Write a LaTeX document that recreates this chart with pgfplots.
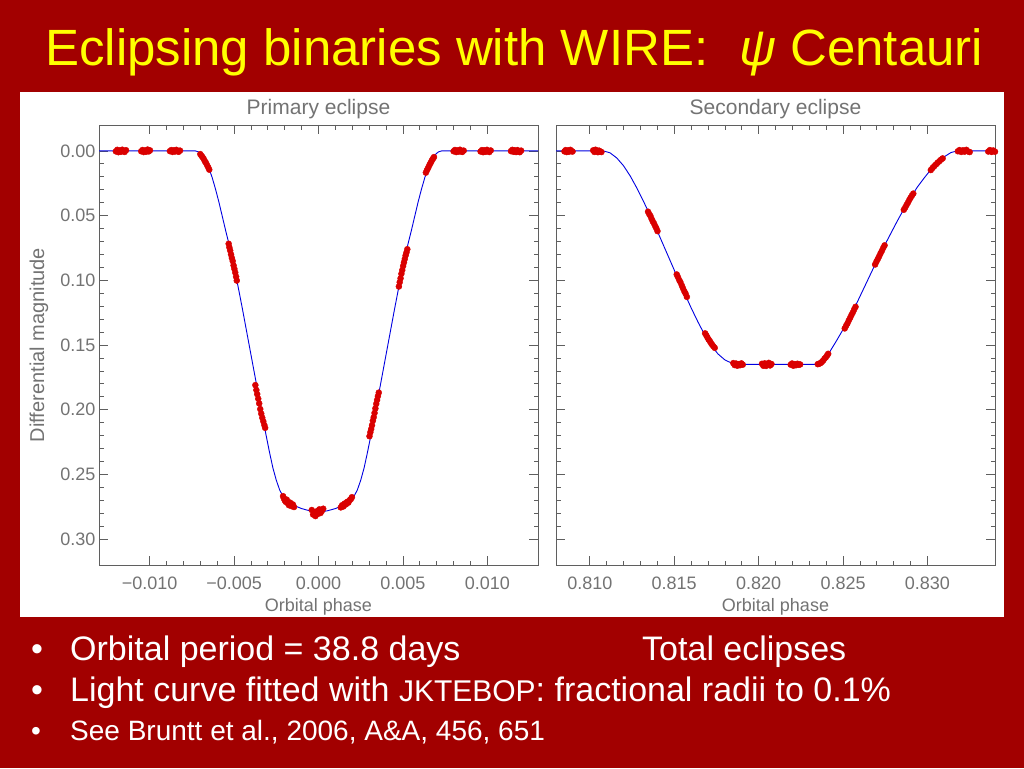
\documentclass[border=0pt]{standalone}
\usepackage{pgfplots}
\pgfplotsset{compat=1.18}
\usepackage{fontspec}
\setmainfont{Liberation Sans}

\definecolor{slidered}{RGB}{162,0,0}
\definecolor{titleyellow}{RGB}{255,255,0}
\definecolor{axgray}{RGB}{95,95,95}
\definecolor{lblgray}{RGB}{115,115,115}
\definecolor{datared}{RGB}{218,0,0}
\definecolor{fitblue}{RGB}{0,0,225}

\begin{document}
\begin{tikzpicture}[x=1pt,y=1pt]

  %% slide background and white panel
  \fill[slidered] (0,0) rectangle (1024,768);
  \fill[white] (20,151) rectangle (1004,676);

  %% common look of both panels (IDL style)
  \pgfplotsset{
    ecl/.style={
      scale only axis, width=439pt, height=440pt,
      anchor=south west,
      ymin=-0.02, ymax=0.32, y dir=reverse,
      scaled x ticks=false, scaled y ticks=false,
      axis line style={draw=axgray, line width=0.7pt},
      every tick/.style={draw=axgray, line width=0.7pt},
      major tick length=9pt, minor tick length=4.5pt,
      minor x tick num=4, minor y tick num=4,
      ytick={0,0.05,0.10,0.15,0.20,0.25,0.30},
      tick label style={font=\fontsize{18}{18}\selectfont, text=lblgray},
      xticklabel style={yshift=-8pt},
      title style={at={(axis description cs:0.5,1)}, anchor=base, yshift=4pt,
        font=\fontsize{21}{21}\selectfont, text=lblgray},
      xlabel style={at={(axis description cs:0.5,0)}, anchor=base, yshift=-46pt,
        font=\fontsize{18}{18}\selectfont, text=lblgray},
      ylabel style={at={(axis description cs:-0.137,0.5)}, anchor=center,
        font=\fontsize{20}{20}\selectfont, text=lblgray},
      xlabel={Orbital phase},
    },
    fit/.style={fitblue, line width=0.9pt, no markers},
    obs/.style={only marks, mark=*, mark size=3pt, datared,
      mark options={draw=datared, fill=datared}},
  }

  %% ---------------- primary eclipse ----------------
  \begin{axis}[ecl, at={(99pt,203pt)},
    xmin=-0.013, xmax=0.013,
    xtick={-0.010,-0.005,0,0.005,0.010},
    xticklabels={−0.010,−0.005,0.000,0.005,0.010},
    yticklabels={0.00,0.05,0.10,0.15,0.20,0.25,0.30},
    title={Primary eclipse},
    ylabel={Differential magnitude}]

    \addplot[fit] table {
      x y
      -0.0130 0
      -0.0073 0
      -0.0071 0.0008
      -0.0069 0.0030
      -0.0067 0.0072
      -0.0065 0.0130
      -0.0063 0.0205
      -0.0061 0.0295
      -0.0059 0.0395
      -0.0057 0.0505
      -0.0055 0.0615
      -0.0053 0.0720
      -0.0051 0.0835
      -0.0049 0.0960
      -0.0047 0.1090
      -0.0045 0.1225
      -0.0043 0.1365
      -0.0041 0.1505
      -0.0039 0.1645
      -0.0037 0.1785
      -0.0035 0.1925
      -0.0033 0.2065
      -0.0031 0.2200
      -0.0029 0.2330
      -0.0027 0.2450
      -0.0025 0.2545
      -0.0023 0.2620
      -0.0021 0.2670
      -0.0019 0.2700
      -0.0016 0.2727
      -0.0013 0.2748
      -0.0010 0.2764
      -0.0005 0.2782
       0.0000 0.2790
       0.0005 0.2782
       0.0010 0.2764
       0.0013 0.2748
       0.0016 0.2727
       0.0019 0.2700
       0.0021 0.2670
       0.0023 0.2620
       0.0025 0.2545
       0.0027 0.2450
       0.0029 0.2330
       0.0031 0.2200
       0.0033 0.2065
       0.0035 0.1925
       0.0037 0.1785
       0.0039 0.1645
       0.0041 0.1505
       0.0043 0.1365
       0.0045 0.1225
       0.0047 0.1090
       0.0049 0.0960
       0.0051 0.0835
       0.0053 0.0720
       0.0055 0.0615
       0.0057 0.0505
       0.0059 0.0395
       0.0061 0.0295
       0.0063 0.0205
       0.0065 0.0130
       0.0067 0.0072
       0.0069 0.0030
       0.0071 0.0008
       0.0073 0
       0.0130 0
    };

    \addplot[obs] table {
      x y
      -0.01200 0.0004
      -0.01192 -0.0008
      -0.01185 0.0010
      -0.01178 -0.0003
      -0.01170 0.0007
      -0.01162 -0.0009
      -0.01155 0.0002
      -0.01148 0.0008
      -0.01140 -0.0005
      -0.01050 0.0003
      -0.01042 -0.0007
      -0.01035 0.0009
      -0.01028 -0.0002
      -0.01020 0.0006
      -0.01012 -0.0010
      -0.01005 0.0004
      -0.00998 -0.0004
      -0.00880 0.0002
      -0.00872 -0.0006
      -0.00865 0.0008
      -0.00858 -0.0004
      -0.00850 0.0005
      -0.00842 -0.0008
      -0.00835 0.0003
      -0.00828 0.0007
      -0.00820 -0.0002
      -0.00700 0.0025
      -0.00693 0.0038
      -0.00687 0.0048
      -0.00680 0.0062
      -0.00673 0.0080
      -0.00667 0.0092
      -0.00660 0.0110
      -0.00653 0.0128
      -0.00647 0.0145
      -0.00532 0.0718
      -0.00528 0.0745
      -0.00523 0.0770
      -0.00518 0.0800
      -0.00513 0.0828
      -0.00508 0.0852
      -0.00503 0.0885
      -0.00498 0.0912
      -0.00493 0.0940
      -0.00488 0.0972
      -0.00484 0.1002
      -0.00374 0.1810
      -0.00368 0.1848
      -0.00363 0.1880
      -0.00357 0.1915
      -0.00351 0.1952
      -0.00345 0.1995
      -0.00339 0.2030
      -0.00333 0.2062
      -0.00327 0.2090
      -0.00321 0.2118
      -0.00316 0.2140
      -0.00210 0.2668
      -0.00205 0.2685
      -0.00200 0.2700
      -0.00194 0.2712
      -0.00188 0.2695
      -0.00182 0.2722
      -0.00175 0.2738
      -0.00168 0.2718
      -0.00160 0.2745
      -0.00152 0.2732
      -0.00145 0.2752
      -0.00040 0.2775
      -0.00032 0.2810
      -0.00025 0.2792
      -0.00018 0.2822
      -0.00010 0.2785
      -0.00003 0.2805
       0.00005 0.2770
       0.00012 0.2798
       0.00020 0.2782
       0.00028 0.2765
       0.00132 0.2755
       0.00140 0.2738
       0.00147 0.2748
       0.00155 0.2725
       0.00162 0.2732
       0.00170 0.2712
       0.00177 0.2718
       0.00185 0.2698
       0.00192 0.2690
       0.00198 0.2676
       0.00302 0.2205
       0.00307 0.2175
       0.00312 0.2150
       0.00317 0.2120
       0.00322 0.2085
       0.00327 0.2058
       0.00332 0.2025
       0.00337 0.1990
       0.00342 0.1955
       0.00347 0.1925
       0.00352 0.1895
       0.00357 0.1868
       0.00476 0.1048
       0.00481 0.1015
       0.00486 0.0985
       0.00491 0.0950
       0.00496 0.0922
       0.00501 0.0890
       0.00506 0.0862
       0.00511 0.0835
       0.00516 0.0808
       0.00521 0.0785
       0.00526 0.0760
       0.00636 0.0168
       0.00642 0.0150
       0.00648 0.0135
       0.00654 0.0118
       0.00660 0.0102
       0.00666 0.0088
       0.00672 0.0072
       0.00678 0.0060
       0.00684 0.0048
       0.00800 0.0003
       0.00808 -0.0007
       0.00815 0.0009
       0.00822 -0.0003
       0.00830 0.0006
       0.00838 -0.0009
       0.00845 0.0004
       0.00852 0.0008
       0.00860 -0.0002
       0.00960 0.0005
       0.00968 -0.0006
       0.00975 0.0010
       0.00982 -0.0004
       0.00990 0.0007
       0.00998 -0.0008
       0.01005 0.0003
       0.01012 0.0009
       0.01020 -0.0003
       0.01140 0.0002
       0.01148 -0.0008
       0.01155 0.0007
       0.01162 -0.0004
       0.01170 0.0009
       0.01178 -0.0006
       0.01185 0.0004
       0.01192 0.0010
       0.01200 -0.0002
    };
  \end{axis}

  %% ---------------- secondary eclipse ----------------
  \begin{axis}[ecl, at={(556pt,203pt)},
    xmin=0.808, xmax=0.834,
    xtick={0.810,0.815,0.820,0.825,0.830},
    xticklabels={0.810,0.815,0.820,0.825,0.830},
    yticklabels={},
    title={Secondary eclipse}]

    \addplot[fit] table {
      x y
      0.8080 0
      0.8108 0
      0.8112 0.0015
      0.8116 0.0055
      0.8120 0.0115
      0.8124 0.0195
      0.8128 0.0290
      0.8132 0.0395
      0.8136 0.0505
      0.8140 0.0620
      0.8144 0.0740
      0.8148 0.0860
      0.8152 0.0980
      0.8156 0.1098
      0.8160 0.1212
      0.8164 0.1320
      0.8168 0.1420
      0.8172 0.1505
      0.8176 0.1570
      0.8180 0.1615
      0.8184 0.1640
      0.8188 0.1649
      0.8192 0.1650
      0.8236 0.1650
      0.8238 0.1640
      0.8240 0.1600
      0.8242 0.1555
      0.8246 0.1470
      0.8250 0.1380
      0.8254 0.1285
      0.8258 0.1180
      0.8262 0.1070
      0.8266 0.0960
      0.8270 0.0850
      0.8274 0.0745
      0.8278 0.0645
      0.8282 0.0545
      0.8286 0.0450
      0.8290 0.0360
      0.8294 0.0280
      0.8298 0.0210
      0.8302 0.0145
      0.8306 0.0090
      0.8310 0.0045
      0.8314 0.0012
      0.8318 0
      0.8340 0
    };

    \addplot[obs] table {
      x y
      0.80850 0.0004
      0.80857 -0.0006
      0.80864 0.0009
      0.80871 -0.0003
      0.80878 0.0006
      0.80885 -0.0008
      0.80892 0.0002
      0.80898 0.0005
      0.81020 -0.0004
      0.81027 0.0008
      0.81034 -0.0009
      0.81041 0.0003
      0.81048 0.0010
      0.81055 -0.0002
      0.81062 0.0006
      0.81069 0.0009
      0.81345 0.0470
      0.81352 0.0488
      0.81359 0.0502
      0.81366 0.0525
      0.81373 0.0545
      0.81380 0.0560
      0.81387 0.0580
      0.81394 0.0598
      0.81401 0.0620
      0.81515 0.0955
      0.81522 0.0975
      0.81530 0.0998
      0.81537 0.1015
      0.81545 0.1040
      0.81552 0.1062
      0.81560 0.1085
      0.81567 0.1102
      0.81575 0.1128
      0.81683 0.1410
      0.81690 0.1425
      0.81697 0.1442
      0.81704 0.1458
      0.81711 0.1470
      0.81718 0.1485
      0.81725 0.1498
      0.81732 0.1510
      0.81740 0.1522
      0.81850 0.1640
      0.81858 0.1655
      0.81866 0.1643
      0.81874 0.1660
      0.81882 0.1648
      0.81890 0.1656
      0.81898 0.1642
      0.81906 0.1652
      0.82020 0.1645
      0.82028 0.1660
      0.82036 0.1642
      0.82044 0.1662
      0.82052 0.1650
      0.82060 0.1638
      0.82068 0.1658
      0.82076 0.1647
      0.82190 0.1652
      0.82198 0.1643
      0.82206 0.1660
      0.82214 0.1648
      0.82222 0.1656
      0.82230 0.1645
      0.82238 0.1653
      0.82246 0.1650
      0.82350 0.1648
      0.82358 0.1645
      0.82366 0.1640
      0.82374 0.1632
      0.82382 0.1620
      0.82390 0.1606
      0.82398 0.1595
      0.82406 0.1580
      0.82412 0.1568
      0.82510 0.1372
      0.82518 0.1352
      0.82526 0.1333
      0.82534 0.1310
      0.82542 0.1290
      0.82550 0.1268
      0.82558 0.1248
      0.82566 0.1225
      0.82574 0.1205
      0.82690 0.0878
      0.82698 0.0855
      0.82706 0.0835
      0.82714 0.0815
      0.82722 0.0792
      0.82730 0.0772
      0.82738 0.0750
      0.82746 0.0730
      0.82860 0.0455
      0.82868 0.0438
      0.82876 0.0418
      0.82884 0.0400
      0.82892 0.0380
      0.82900 0.0362
      0.82908 0.0345
      0.82916 0.0330
      0.83020 0.0148
      0.83030 0.0132
      0.83040 0.0118
      0.83050 0.0105
      0.83060 0.0092
      0.83070 0.0080
      0.83080 0.0068
      0.83090 0.0058
      0.83180 0.0003
      0.83190 -0.0006
      0.83200 0.0008
      0.83210 -0.0004
      0.83220 0.0006
      0.83230 -0.0008
      0.83240 0.0004
      0.83250 0.0009
      0.83360 0.0005
      0.83370 -0.0006
      0.83380 0.0008
      0.83390 -0.0003
      0.83400 0.0006
    };
  \end{axis}

  %% slide title
  \node[anchor=base west, inner sep=0pt, text=titleyellow,
    font=\fontsize{51}{60}\selectfont] at (45,702)
    {Eclipsing binaries with WIRE:\hspace{0.6em}{\itshape ψ} Centauri};

  %% bullet points
  \node[anchor=base west, inner sep=0pt, text=white,
    font=\fontsize{34}{40}\selectfont] at (31,108) {•};
  \node[anchor=base west, inner sep=0pt, text=white,
    font=\fontsize{34}{40}\selectfont] at (70,108) {Orbital period = 38.8 days};
  \node[anchor=base west, inner sep=0pt, text=white,
    font=\fontsize{34}{40}\selectfont] at (642,108) {Total eclipses};

  \node[anchor=base west, inner sep=0pt, text=white,
    font=\fontsize{34}{40}\selectfont] at (31,67) {•};
  \node[anchor=base west, inner sep=0pt, text=white,
    font=\fontsize{34}{40}\selectfont] at (70,67)
    {Light curve fitted with {\fontsize{30}{36}\selectfont JKTEBOP}: fractional radii to 0.1\%};

  \node[anchor=base west, inner sep=0pt, text=white,
    font=\fontsize{28}{34}\selectfont] at (31,28) {•};
  \node[anchor=base west, inner sep=0pt, text=white,
    font=\fontsize{28}{34}\selectfont] at (70,28)
    {See Bruntt et al., 2006, A\&A, 456, 651};

\end{tikzpicture}
\end{document}
